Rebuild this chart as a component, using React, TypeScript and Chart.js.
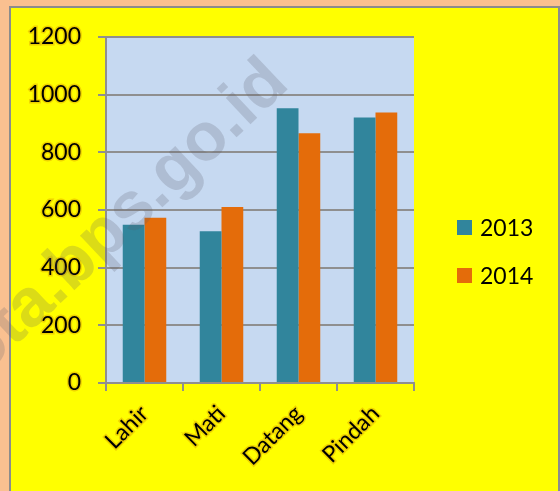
import React, { useEffect, useRef } from "react";
import { Chart, registerables } from "chart.js";

Chart.register(...registerables);

const categories = ["Lahir", "Mati", "Datang", "Pindah"];
const series2013 = [549, 526, 953, 921];
const series2014 = [573, 610, 866, 938];
const seriesLabels = ["2013", "2014"];
const yTicks = [0, 200, 400, 600, 800, 1000, 1200];
const watermarkText = "kota.bps.go.id";

const TEAL = "#31859C";
const ORANGE = "#E46C0A";
const PLOT_BG = "#C6D9F1";
const GRID = "#8f8f8f";
const GLOW = "rgba(225,175,0,0.55)";
const FONT = "Lato, 'Liberation Sans', sans-serif";

export default function App() {
  const ref = useRef<HTMLCanvasElement | null>(null);

  useEffect(() => {
    if (!ref.current) return;
    const colors = [TEAL, ORANGE];

    const bgPlugin = {
      id: "plotBg",
      beforeDraw(chart: any) {
        const { ctx, chartArea } = chart;
        ctx.save();
        ctx.fillStyle = PLOT_BG;
        ctx.fillRect(chartArea.left, chartArea.top, chartArea.right - chartArea.left, chartArea.bottom - chartArea.top);
        ctx.restore();
      },
    };

    const legendPlugin = {
      id: "customLegend",
      afterDraw(chart: any) {
        const { ctx, chartArea } = chart;
        ctx.save();
        ctx.font = `23px ${FONT}`;
        ctx.textBaseline = "middle";
        ctx.textAlign = "left";
        seriesLabels.forEach((lab, i) => {
          const cy = 227.5 + i * 48;
          const x = chartArea.right + 43;
          ctx.fillStyle = colors[i];
          ctx.fillRect(x, cy - 7.5, 15, 15);
          ctx.fillStyle = "#000";
          ctx.fillText(lab, x + 23, cy + 1);
        });
        ctx.restore();
      },
    };

    const watermarkPlugin = {
      id: "watermark",
      afterDraw(chart: any) {
        const { ctx } = chart;
        ctx.save();
        ctx.font = `bold 68px 'Liberation Sans', Arial, sans-serif`;
        ctx.fillStyle = "rgba(90,90,105,0.22)";
        ctx.textBaseline = "alphabetic";
        ctx.textAlign = "left";
        ctx.translate(166, 204);
        ctx.rotate(-Math.PI / 4 + 0.03);
        const pre = ctx.measureText("kota.bps").width + ctx.measureText(".").width / 2;
        ctx.fillText(watermarkText, -pre, 0);
        ctx.restore();
      },
    };

    const chart = new Chart(ref.current, {
      type: "bar",
      data: {
        labels: categories,
        datasets: [
          { label: seriesLabels[0], data: series2013, backgroundColor: TEAL, borderWidth: 0 },
          { label: seriesLabels[1], data: series2014, backgroundColor: ORANGE, borderWidth: 0 },
        ],
      },
      options: {
        animation: false,
        responsive: false,
        maintainAspectRatio: false,
        datasets: { bar: { categoryPercentage: 0.565, barPercentage: 1.0 } },
        layout: { padding: { left: 10, top: 37, right: 146, bottom: 0 } },
        plugins: {
          legend: { display: false },
          tooltip: { enabled: false },
          title: { display: false },
        },
        scales: {
          x: {
            grid: {
              display: true,
              drawOnChartArea: false,
              drawTicks: true,
              tickLength: 8,
              color: GRID,
              lineWidth: 2,
            },
            border: { display: true, color: GRID, width: 2 },
            ticks: {
              color: "#000",
              font: { family: FONT, size: 23 },
              minRotation: 45,
              maxRotation: 45,
              padding: 9,
              textStrokeColor: GLOW,
              textStrokeWidth: 3,
            },
            afterFit(scale: any) {
              scale.height = 108;
            },
          },
          y: {
            min: 0,
            max: 1200,
            grid: { color: GRID, lineWidth: 2, tickLength: 8, drawTicks: true },
            border: { display: true, color: GRID, width: 2 },
            ticks: {
              stepSize: 200,
              color: "#000",
              padding: 17,
              font: { family: FONT, size: 23 },
              textStrokeColor: GLOW,
              textStrokeWidth: 3,
              callback: (v: any) => (yTicks.includes(Number(v)) ? String(v) : ""),
            },
            afterFit(scale: any) {
              scale.width = 96;
            },
          },
        },
      },
      plugins: [bgPlugin, legendPlugin, watermarkPlugin],
    });
    return () => chart.destroy();
  }, []);

  return (
    <div style={{ position: "fixed", left: 0, top: 0, width: 560, height: 491, background: "#FAC090", overflow: "hidden" }}>
      <div
        style={{
          position: "absolute",
          left: 9,
          top: 6,
          width: 551,
          height: 600,
          boxSizing: "border-box",
          background: "#FFFF00",
          border: "2px solid #8c8c8c",
        }}
      />
      <canvas ref={ref} width={560} height={491} style={{ position: "absolute", left: 0, top: 0, width: 560, height: 491 }} />
    </div>
  );
}
